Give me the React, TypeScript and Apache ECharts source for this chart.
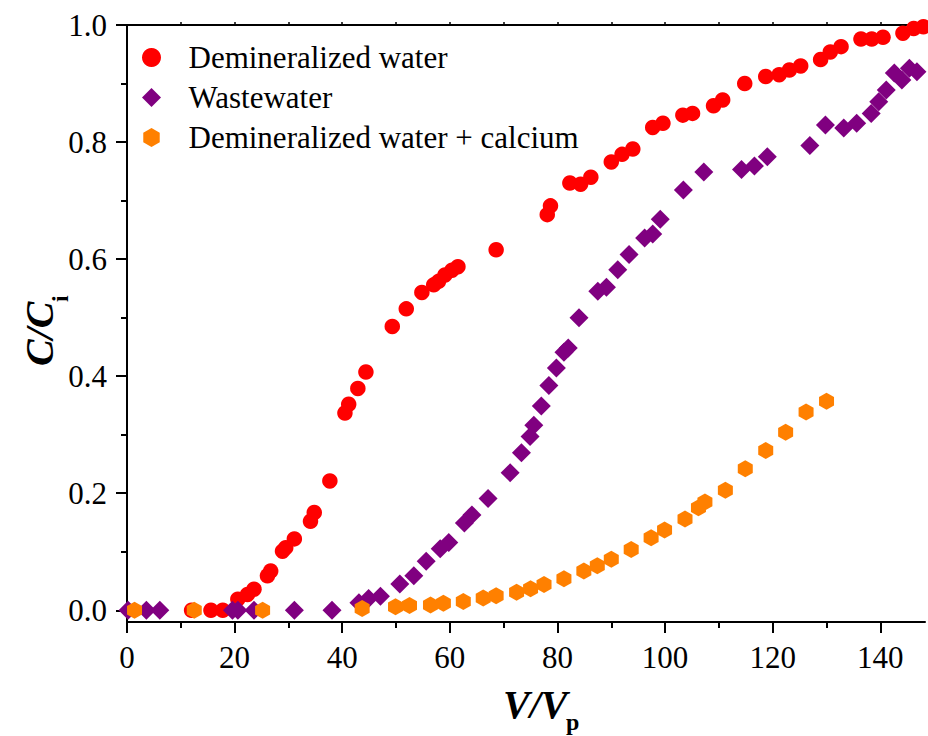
import React, { useEffect, useRef } from "react";
import * as echarts from "echarts";

const seriesNames = ["Demineralized water", "Wastewater", "Demineralized water + calcium"];

const demiX = [12.0, 15.6, 17.8, 20.6, 22.4, 23.6, 26.1, 26.7, 28.9, 29.5, 31.1, 34.1, 34.8, 37.7, 40.5, 41.2, 42.9, 44.4, 49.3, 51.9, 54.8, 57.0, 57.9, 59.1, 60.4, 61.5, 68.6, 78.1, 78.7, 82.3, 84.3, 86.2, 90.0, 92.0, 94.0, 97.7, 99.6, 103.3, 105.1, 109.0, 110.7, 114.8, 118.7, 121.2, 123.1, 125.2, 128.9, 130.7, 132.7, 136.4, 138.4, 140.5, 144.2, 146.2, 148.0];
const demiY = [0, 0, 0, 0.019, 0.027, 0.036, 0.059, 0.067, 0.101, 0.107, 0.122, 0.152, 0.167, 0.221, 0.337, 0.352, 0.379, 0.407, 0.485, 0.515, 0.543, 0.556, 0.562, 0.573, 0.581, 0.587, 0.616, 0.676, 0.691, 0.730, 0.728, 0.740, 0.766, 0.779, 0.788, 0.825, 0.832, 0.846, 0.849, 0.862, 0.872, 0.900, 0.912, 0.915, 0.923, 0.930, 0.941, 0.954, 0.963, 0.976, 0.976, 0.979, 0.986, 0.994, 0.997];

const wasteX = [0.2, 3.6, 6.1, 19.6, 20.6, 23.6, 31.1, 38.1, 43.1, 44.9, 47.1, 50.7, 53.3, 55.6, 58.2, 59.8, 62.7, 64.1, 67.1, 71.2, 73.3, 74.9, 75.6, 77.0, 78.4, 79.8, 81.2, 82.0, 84.0, 87.5, 89.1, 91.2, 93.3, 96.2, 97.7, 99.1, 103.4, 107.2, 114.2, 116.6, 119.0, 126.9, 129.8, 133.2, 135.6, 138.3, 139.7, 141.1, 142.6, 144.0, 145.4, 146.8];
const wasteY = [0, 0, 0, 0, 0, 0, 0, 0, 0.013, 0.020, 0.024, 0.045, 0.059, 0.084, 0.105, 0.116, 0.149, 0.163, 0.191, 0.235, 0.269, 0.297, 0.316, 0.349, 0.384, 0.414, 0.441, 0.448, 0.500, 0.545, 0.552, 0.582, 0.608, 0.636, 0.643, 0.668, 0.718, 0.749, 0.753, 0.759, 0.775, 0.794, 0.829, 0.824, 0.832, 0.849, 0.869, 0.889, 0.918, 0.906, 0.926, 0.920];

const calcX = [1.4, 12.5, 25.2, 43.7, 49.9, 52.5, 56.4, 58.8, 62.5, 66.2, 68.6, 72.4, 75.0, 77.5, 81.2, 84.9, 87.4, 90.0, 93.7, 97.4, 99.9, 103.7, 106.2, 107.4, 111.2, 114.9, 118.7, 122.4, 126.2, 130.0];
const calcY = [0, 0, 0, 0.003, 0.006, 0.008, 0.009, 0.012, 0.015, 0.021, 0.025, 0.031, 0.037, 0.044, 0.054, 0.067, 0.076, 0.087, 0.104, 0.124, 0.137, 0.156, 0.175, 0.185, 0.205, 0.242, 0.273, 0.304, 0.339, 0.357];

const xMajorTicks = [0, 20, 40, 60, 80, 100, 120, 140];
const xMinorTicks = [10, 30, 50, 70, 90, 110, 130];
const xTopTicks = [10, 20, 30, 40, 50, 60, 70, 80, 90, 100, 110, 120, 130, 140];
const yMajorTicks = [0, 0.2, 0.4, 0.6, 0.8, 1.0];
const yMinorTicks = [0.1, 0.3, 0.5, 0.7, 0.9];

const FONT = "Liberation Serif";
const HEX = "path://M8.66,0 L17.32,5 L17.32,15 L8.66,20 L0,15 L0,5 Z";
const DIAMOND = "path://M10,0 L20,10 L10,20 L0,10 Z";

const zip = (xs: number[], ys: number[]) => xs.map((x, i) => [x, ys[i]]);

export default function App() {
  const ref = useRef<HTMLDivElement>(null);
  useEffect(() => {
    if (!ref.current) return;
    const chart = echarts.init(ref.current, null, { renderer: "svg" });
    const axisLine = { show: true, onZero: false, lineStyle: { color: "#000", width: 2 } };
    const labelStyle = { fontFamily: FONT, fontSize: 31, color: "#000" };
    const titleText = (text: string, x: number, y: number, size: number, italic: boolean, rot: number) => ({
      type: "text",
      x, y, rotation: rot, silent: true,
      style: {
        text, fill: "#000", fontFamily: FONT, fontSize: size, fontWeight: "bold",
        fontStyle: italic ? "italic" : "normal", textAlign: "left", textVerticalAlign: "middle",
      },
    });
    const option: any = {
      animation: false,
      backgroundColor: "#fff",
      textStyle: { fontFamily: FONT, color: "#000" },
      grid: { left: 127, right: 0, top: 25, bottom: 114, containLabel: false },
      legend: {
        orient: "vertical",
        left: 142,
        top: 40,
        padding: 0,
        itemWidth: 64,
        itemHeight: 19,
        itemGap: 5,
        textStyle: { fontFamily: FONT, fontSize: 31, color: "#000", lineHeight: 35 },
        data: [
          { name: seriesNames[0], icon: "circle" },
          { name: seriesNames[1], icon: DIAMOND },
          { name: seriesNames[2], icon: HEX },
        ],
      },
      xAxis: [
        {
          type: "value", position: "bottom", min: 0, max: 148.3, interval: 20,
          axisLine,
          axisTick: { show: true, customValues: xMajorTicks, length: 11, lineStyle: { color: "#000", width: 2 } },
          axisLabel: {
            ...labelStyle, margin: 20, showMaxLabel: true,
            formatter: (v: number) => (Math.abs(v % 20) < 1e-6 ? String(Math.round(v)) : ""),
          },
          splitLine: { show: false },
        },
        {
          type: "value", position: "bottom", min: 0, max: 148.3,
          axisLine: { show: false, onZero: false },
          axisTick: { show: true, customValues: xMinorTicks, length: 6, lineStyle: { color: "#000", width: 2 } },
          axisLabel: { show: false },
          splitLine: { show: false },
        },
        {
          type: "value", position: "top", min: 0, max: 148.3,
          axisLine,
          axisTick: { show: true, customValues: xTopTicks, length: 3, lineStyle: { color: "#000", width: 1.5 } },
          axisLabel: { show: false },
          splitLine: { show: false },
        },
      ],
      yAxis: [
        {
          type: "value", position: "left", min: -0.02, max: 1.0,
          axisLine,
          axisTick: { show: true, customValues: yMajorTicks, length: 11, lineStyle: { color: "#000", width: 2 } },
          axisLabel: {
            ...labelStyle, margin: 20,
            formatter: (v: number) => (v < -1e-9 ? "" : v.toFixed(1)),
          },
          splitLine: { show: false },
        },
        {
          type: "value", position: "left", min: -0.02, max: 1.0,
          axisLine: { show: false, onZero: false },
          axisTick: { show: true, customValues: yMinorTicks, length: 6, lineStyle: { color: "#000", width: 2 } },
          axisLabel: { show: false },
          splitLine: { show: false },
        },
      ],
      graphic: [
        titleText("V/V", 503, 704, 40, true, 0),
        titleText("p", 566, 722, 24, false, 0),
        titleText("C/C", 39.5, 366, 40, true, Math.PI / 2),
        titleText("i", 60, 302, 24, false, Math.PI / 2),
      ],
      series: [
        {
          name: seriesNames[0], type: "scatter", symbol: "circle", symbolSize: 15.5, clip: false,
          itemStyle: { color: "#FF0000", opacity: 1 }, data: zip(demiX, demiY),
        },
        {
          name: seriesNames[1], type: "scatter", symbol: "diamond", symbolSize: 19, clip: false,
          itemStyle: { color: "#800080", opacity: 1 }, data: zip(wasteX, wasteY),
        },
        {
          name: seriesNames[2], type: "scatter", symbol: HEX, symbolSize: [15, 17], clip: false,
          itemStyle: { color: "#FF8000", opacity: 1 }, data: zip(calcX, calcY),
        },
      ],
    };
    chart.setOption(option);
    return () => chart.dispose();
  }, []);
  return (
    <div
      ref={ref}
      style={{ position: "fixed", left: 0, top: 0, width: 928, height: 736, background: "#fff" }}
    />
  );
}
